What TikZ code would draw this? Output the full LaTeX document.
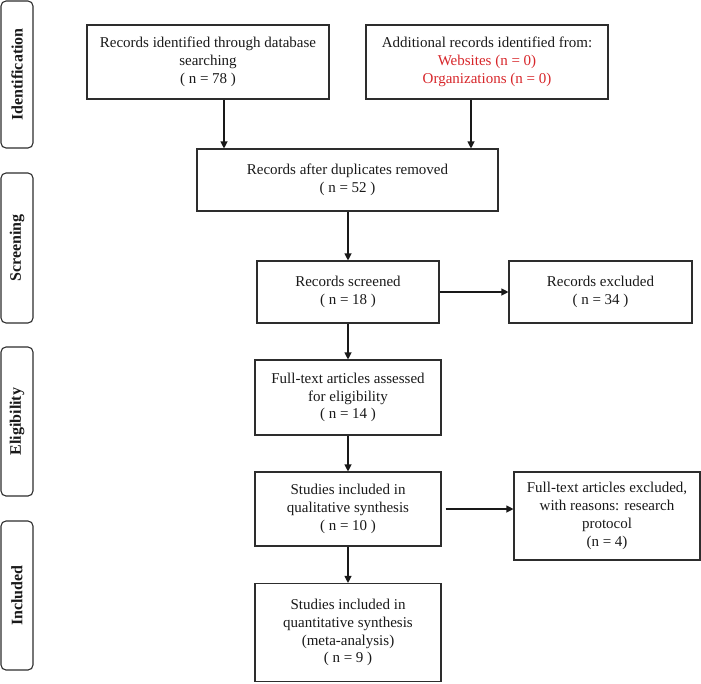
\documentclass[tikz,border=0pt]{standalone}
\usepackage{fontspec}
\setmainfont{Liberation Serif}
\usetikzlibrary{arrows.meta}
\definecolor{recred}{RGB}{215,38,42}
\definecolor{edge}{RGB}{45,45,45}
\begin{document}
\begin{tikzpicture}[x=1pt,y=-1pt,
  box/.style={draw=edge,line width=1.1pt,rectangle,inner sep=0pt,align=center,
    font=\fontsize{15}{17.8}\selectfont,text=black!90},
  side/.style={draw=edge,line width=1.1pt,rounded corners=5pt,inner sep=0pt,
    minimum width=32pt},
  sidetext/.style={rotate=90,font=\fontsize{16}{18}\selectfont\bfseries,text=black!90},
  arr/.style={draw=black!90,line width=1.1pt,-{Triangle[length=7pt,width=7pt]}}]
\useasboundingbox (0,0) rectangle (701,683);

% side bars
\node[side,minimum height=147pt] (s1) at (17,74.5) {};
\node[sidetext] (t1) at (s1.center) {Identification};
\node[side,minimum height=150pt] (s2) at (17,248) {};
\node[sidetext] (t2) at (s2.center) {Screening};
\node[side,minimum height=149pt] (s3) at (17,421.5) {};
\node[sidetext] (t3) at (s3.center) {Eligibility};
\node[side,minimum height=149pt] (s4) at (17,595.5) {};
\node[sidetext] (t4) at (s4.center) {Included};

% boxes
\node[box,minimum width=242pt,minimum height=74pt] (b1) at (208,62)
  {Records identified through database\\searching\\( n = 78 )};
\node[box,minimum width=242pt,minimum height=74pt] (b2) at (487,62)
  {Additional records identified from:\\\textcolor{recred}{Websites (n = 0)}\\\textcolor{recred}{Organizations (n = 0)}};
\node[box,minimum width=301pt,minimum height=62pt] (b3) at (347.5,180)
  {Records after duplicates removed\\( n = 52 )};
\node[box,minimum width=182pt,minimum height=62pt] (b4) at (348,292)
  {Records screened\\( n = 18 )};
\node[box,minimum width=183pt,minimum height=62pt] (b5) at (600.5,292)
  {Records excluded\\( n = 34 )};
\node[box,minimum width=186pt,minimum height=75pt] (b6) at (348,397.5)
  {Full-text articles assessed\\for eligibility\\( n = 14 )};
\node[box,minimum width=186pt,minimum height=74pt] (b7) at (348,509)
  {Studies included in\\qualitative synthesis\\( n = 10 )};
\node[box,minimum width=186pt,minimum height=88pt] (b8) at (607,516)
  {Full-text articles excluded,\\with reasons: research\\protocol\\(n = 4)};
\node[box,minimum width=186pt,minimum height=98pt] (b9) at (348,632.5)
  {Studies included in\\quantitative synthesis\\(meta-analysis)\\( n = 9 )};

% connectors
\coordinate (c1) at (224,0);
\coordinate (c2) at (471,0);
\draw[arr] (b1.south -| c1) -- (b3.north -| c1);
\draw[arr] (b2.south -| c2) -- (b3.north -| c2);
\draw[arr] (b3.south -| b4.north) -- (b4.north);
\draw[arr] (b4.east) -- (b5.west);
\draw[arr] (b4.south) -- (b6.north);
\draw[arr] (b6.south) -- (b7.north);
\draw[arr,shorten <=4pt] (b7.east) -- (b7.east -| b8.west);
\draw[arr] (b7.south) -- (b9.north);
\end{tikzpicture}
\end{document}
